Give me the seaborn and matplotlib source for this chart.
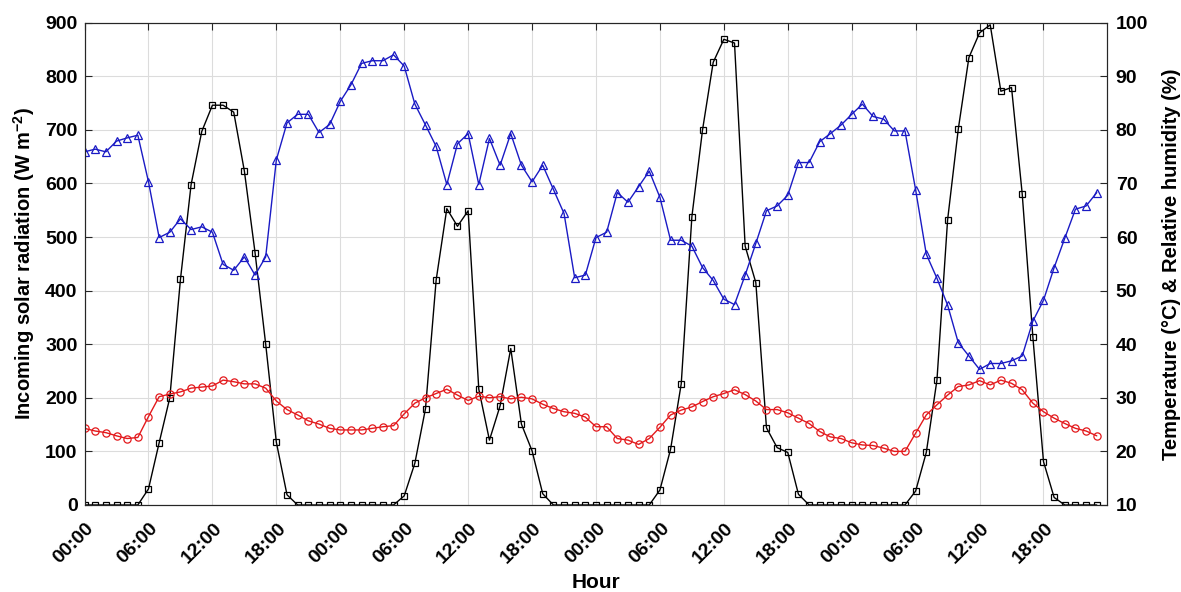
import numpy as np
import matplotlib
matplotlib.use("Agg")
import matplotlib.pyplot as plt
from matplotlib.transforms import ScaledTranslation
import seaborn as sns

# hourly records over four days
hours = np.arange(96)
tick_hours = [0, 6, 12, 18, 24, 30, 36, 42, 48, 54, 60, 66, 72, 78, 84, 90]
tick_labels = ["00:00", "06:00", "12:00", "18:00"] * 4

# incoming solar radiation (W m-2), left axis
solar = [
    0, 0, 0, 0, 0, 0, 30, 116, 200, 421, 598, 697, 746, 746, 733, 623, 471, 300, 117, 19, 0, 0, 0, 0,
    0, 0, 0, 0, 0, 0, 17, 78, 180, 420, 553, 520, 549, 216, 121, 185, 292, 151, 101, 21, 0, 0, 0, 0,
    0, 0, 0, 0, 0, 0, 28, 104, 226, 538, 700, 826, 869, 862, 483, 415, 144, 107, 98, 20, 0, 0, 0, 0,
    0, 0, 0, 0, 0, 0, 26, 98, 233, 532, 701, 835, 881, 896, 772, 779, 581, 314, 81, 14, 0, 0, 0, 0,
]

# air temperature (deg C), right axis
temperature = [
    24.3, 23.8, 23.5, 22.9, 22.4, 22.6, 26.5, 30.2, 30.7, 31.1, 31.8, 32.0,
    32.2, 33.3, 33.0, 32.6, 32.6, 31.8, 29.4, 27.8, 26.8, 25.7, 25.1, 24.3,
    24.0, 24.0, 24.0, 24.3, 24.6, 24.8, 27.0, 29.0, 30.0, 30.8, 31.6, 30.5,
    29.5, 30.3, 30.0, 30.2, 29.8, 30.1, 29.8, 28.8, 28.0, 27.4, 27.1, 26.4,
    24.6, 24.6, 22.4, 22.1, 21.3, 22.4, 24.5, 26.8, 27.7, 28.3, 29.3, 30.2,
    30.8, 31.5, 30.6, 29.4, 27.8, 27.8, 27.2, 26.2, 25.2, 23.7, 22.7, 22.4,
    21.6, 21.2, 21.1, 20.6, 20.0, 20.0, 23.4, 26.8, 28.7, 30.5, 32.1, 32.4,
    33.2, 32.4, 33.3, 32.7, 31.5, 29.0, 27.4, 26.2, 25.2, 24.3, 23.8, 22.9,
]

# relative humidity (%), right axis
humidity = [
    75.9, 76.4, 75.9, 77.9, 78.5, 79.0, 70.3, 59.9, 60.9, 63.4, 61.4, 61.9,
    60.9, 54.9, 53.8, 56.3, 52.9, 56.3, 74.4, 81.3, 82.9, 82.9, 79.5, 81.0,
    85.3, 88.4, 92.4, 92.9, 92.9, 94.0, 91.9, 84.8, 80.9, 76.9, 69.8, 77.4,
    79.3, 69.8, 78.4, 73.4, 79.3, 73.4, 70.3, 73.4, 68.9, 64.4, 52.4, 52.9,
    59.9, 60.9, 68.3, 66.5, 69.4, 72.3, 67.4, 59.4, 59.4, 58.3, 54.3, 51.9,
    48.4, 47.4, 52.9, 58.8, 64.9, 65.8, 67.8, 73.9, 73.9, 77.8, 79.3, 80.9,
    82.9, 84.8, 82.5, 82.0, 79.8, 79.8, 68.8, 56.8, 52.3, 47.3, 40.3, 37.8,
    35.3, 36.4, 36.4, 36.9, 37.8, 44.3, 48.2, 54.3, 59.8, 65.2, 65.8, 68.3,
]

sns.set_theme(style="white")
plt.rcParams["font.family"] = ["Liberation Sans", "DejaVu Sans"]
plt.rcParams["font.weight"] = "bold"
plt.rcParams["axes.labelweight"] = "bold"
plt.rcParams["axes.labelcolor"] = "black"
plt.rcParams["text.color"] = "black"
plt.rcParams["mathtext.fontset"] = "custom"
plt.rcParams["mathtext.rm"] = "Liberation Sans:bold"
plt.rcParams["mathtext.bf"] = "Liberation Sans:bold"

fig = plt.figure(figsize=(11.81, 5.92), dpi=100)
ax = fig.add_axes([0.0716, 0.147, 0.8661, 0.8147])
ax2 = ax.twinx()

sns.lineplot(x=hours, y=solar, ax=ax, color="black", linewidth=1.0,
             marker="s", markersize=4.6, markerfacecolor="none",
             markeredgecolor="black", markeredgewidth=0.9)
sns.lineplot(x=hours, y=temperature, ax=ax2, color="#e3191c", linewidth=1.0,
             marker="o", markersize=5.2, markerfacecolor="none",
             markeredgecolor="#e3191c", markeredgewidth=0.9)
sns.lineplot(x=hours, y=humidity, ax=ax2, color="#1a1ac4", linewidth=1.0,
             marker="^", markersize=6.2, markerfacecolor="none",
             markeredgecolor="#1a1ac4", markeredgewidth=0.9)

ax.set_xlim(0, 96)
ax.set_ylim(0, 900)
ax2.set_ylim(10, 100)
ax.set_yticks(range(0, 901, 100))
ax2.set_yticks(range(10, 101, 10))
ax.set_xticks(tick_hours)
ax.set_xticklabels(tick_labels, rotation=45, ha="right", va="center",
                   rotation_mode="anchor")

ax.grid(True, color="#dcdcdc", linewidth=0.8)
ax.set_axisbelow(True)

ax.tick_params(axis="both", direction="in", length=5, width=0.8,
               labelsize=14, colors="#262626", labelcolor="black")
ax.tick_params(axis="x", top=True, pad=15)
ax.tick_params(axis="y", right=False, pad=5)
ax2.tick_params(axis="y", direction="in", length=5, width=0.8, left=False,
                labelsize=14, colors="#262626", labelcolor="black", pad=6)

# shift the rotated hour labels a little to the right, like the original
shift = ScaledTranslation(7 / 100, 0, fig.dpi_scale_trans)
for lab in ax.get_xticklabels():
    lab.set_transform(lab.get_transform() + shift)

for a in (ax, ax2):
    for s in a.spines.values():
        s.set_color("#262626")
        s.set_linewidth(0.8)

ax.set_xlabel("Hour", fontsize=15, fontweight="bold", labelpad=4)
ax.set_ylabel(r"Incoming solar radiation (W m$^{\mathbf{-2}}$)", fontsize=14.5,
              fontweight="bold", labelpad=6)
ax2.set_ylabel("Temperature (°C) & Relative humidity (%)", fontsize=14.5,
               fontweight="bold", labelpad=10)

fig.savefig("out.png", dpi=100)
